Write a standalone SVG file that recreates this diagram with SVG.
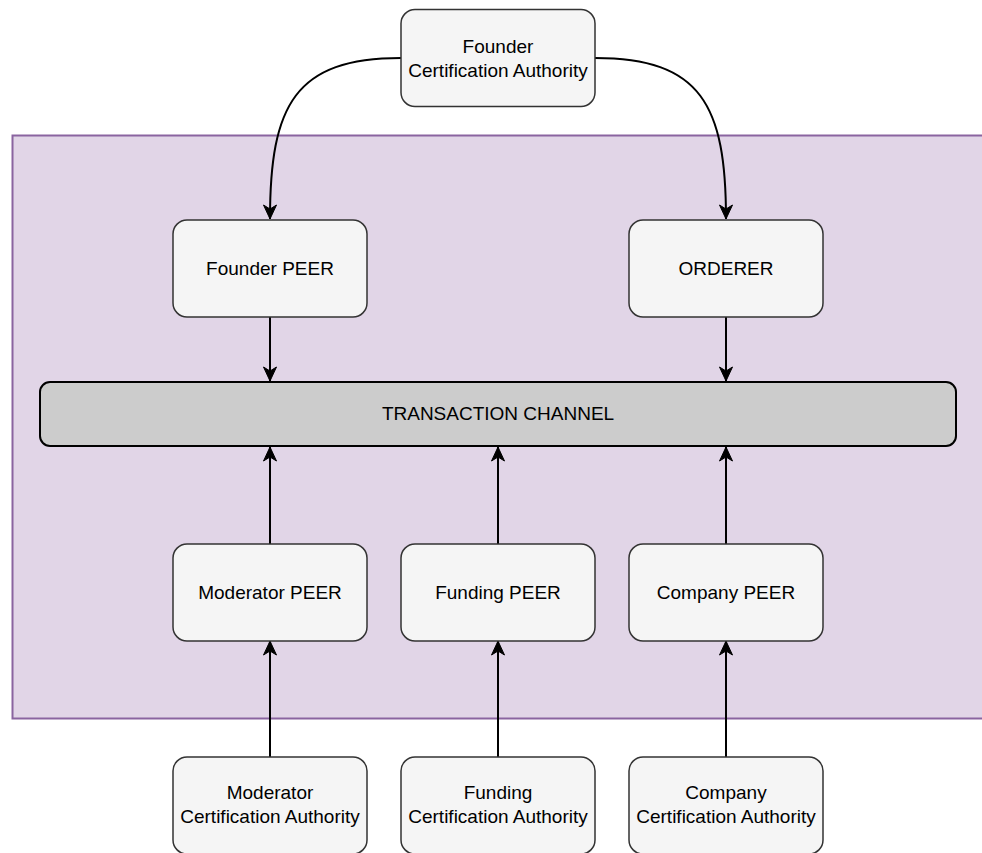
<svg xmlns="http://www.w3.org/2000/svg" width="982" height="853" viewBox="0 0 982 853">
<defs>
<marker id="arr" markerUnits="userSpaceOnUse" markerWidth="16" markerHeight="16" viewBox="0 0 16 16" refX="15" refY="8" orient="auto">
<path d="M1,1.5 L15,8 L1,14.5 L5,8 Z" fill="#000" stroke="#000" stroke-width="1"/>
</marker>
</defs>
<style>
.box{fill:#f5f5f5;stroke:#333;stroke-width:1.5}
.ch{fill:#cccccc;stroke:#000;stroke-width:2}
.t{font-family:"Liberation Sans",Arial,sans-serif;font-size:19px;fill:#000;text-anchor:middle}
.c{fill:none;stroke:#000;stroke-width:2;marker-end:url(#arr)}
</style>
<rect width="982" height="853" fill="#fff"/>
<g id="container">
<rect x="12.5" y="135.5" width="980" height="583" fill="#e1d5e7" stroke="#8a64a0" stroke-width="2"/>
</g>
<g id="connectors">
<path class="c" d="M401,58 C295,58 270,105 270,219"/>
<path class="c" d="M595,58 C701,58 726,105 726,219"/>
<path class="c" d="M270,317 L270,381"/>
<path class="c" d="M726,317 L726,381"/>
<path class="c" d="M270,544 L270,447"/>
<path class="c" d="M498,544 L498,447"/>
<path class="c" d="M726,544 L726,447"/>
<path class="c" d="M270,757 L270,641"/>
<path class="c" d="M498,757 L498,641"/>
<path class="c" d="M726,757 L726,641"/>
</g>
<g id="founder-ca">
<rect class="box" x="401" y="9.5" width="194" height="97" rx="14"/>
<text class="t" x="498" y="53">Founder</text>
<text class="t" x="498" y="77">Certification Authority</text>
</g>
<g id="founder-peer">
<rect class="box" x="173" y="220" width="194" height="97" rx="14"/>
<text class="t" x="270" y="275">Founder PEER</text>
</g>
<g id="orderer">
<rect class="box" x="629" y="220" width="194" height="97" rx="14"/>
<text class="t" x="726" y="275">ORDERER</text>
</g>
<g id="channel">
<rect class="ch" x="40" y="382" width="916" height="64" rx="10"/>
<text class="t" x="498" y="420">TRANSACTION CHANNEL</text>
</g>
<g id="moderator-peer">
<rect class="box" x="173" y="544" width="194" height="97" rx="14"/>
<text class="t" x="270" y="599">Moderator PEER</text>
</g>
<g id="funding-peer">
<rect class="box" x="401" y="544" width="194" height="97" rx="14"/>
<text class="t" x="498" y="599">Funding PEER</text>
</g>
<g id="company-peer">
<rect class="box" x="629" y="544" width="194" height="97" rx="14"/>
<text class="t" x="726" y="599">Company PEER</text>
</g>
<g id="moderator-ca">
<rect class="box" x="173" y="757" width="194" height="97" rx="14"/>
<text class="t" x="270" y="799">Moderator</text>
<text class="t" x="270" y="823">Certification Authority</text>
</g>
<g id="funding-ca">
<rect class="box" x="401" y="757" width="194" height="97" rx="14"/>
<text class="t" x="498" y="799">Funding</text>
<text class="t" x="498" y="823">Certification Authority</text>
</g>
<g id="company-ca">
<rect class="box" x="629" y="757" width="194" height="97" rx="14"/>
<text class="t" x="726" y="799">Company</text>
<text class="t" x="726" y="823">Certification Authority</text>
</g>
</svg>
